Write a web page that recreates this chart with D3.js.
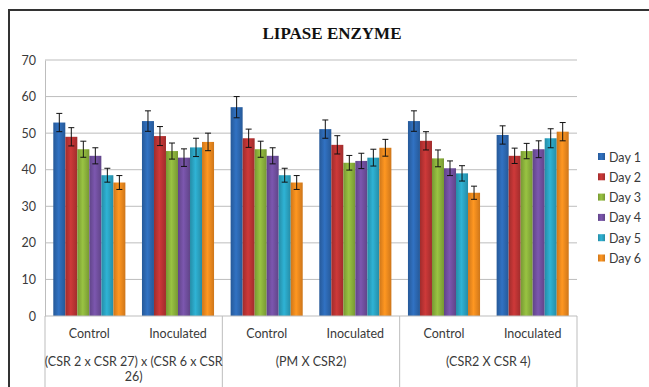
<!DOCTYPE html>
<html>
<head>
<meta charset="utf-8">
<script src="https://cdn.jsdelivr.net/npm/d3@7"></script>
<style>
  body { margin: 0; background: #fff; }
  text { font-family: Lato, "Liberation Sans", sans-serif; fill: #3a3a3a; }
</style>
</head>
<body>
<div id="chart"></div>
<script>
const W = 649, H = 387;

// data
const groups = ["(CSR 2 x CSR 27) x (CSR 6 x CSR 26)", "(PM X CSR2)", "(CSR2 X CSR 4)"];
const treatments = ["Control", "Inoculated"];
const days = ["Day 1", "Day 2", "Day 3", "Day 4", "Day 5", "Day 6"];
const yTicks = [0, 10, 20, 30, 40, 50, 60, 70];
// one entry per day, values in order: g1 control, g1 inoc, g2 control, g2 inoc, g3 control, g3 inoc
const day1 = [52.9, 53.3, 57.1, 51.1, 53.3, 49.5];
const day2 = [49.0, 49.2, 48.6, 46.8, 47.9, 43.8];
const day3 = [45.6, 45.1, 45.6, 41.9, 43.1, 45.1];
const day4 = [43.8, 43.3, 43.8, 42.4, 40.4, 45.6];
const day5 = [38.5, 46.1, 38.5, 43.3, 39.0, 48.6];
const day6 = [36.5, 47.6, 36.5, 46.0, 33.7, 50.4];
const err1 = [2.5, 2.8, 2.9, 2.5, 2.8, 2.5];
const err2 = [2.5, 2.6, 2.5, 2.5, 2.5, 2.1];
const err3 = [2.2, 2.2, 2.2, 2.0, 2.3, 2.1];
const err4 = [2.2, 2.4, 2.2, 2.1, 2.0, 2.3];
const err5 = [1.9, 2.5, 1.9, 2.3, 2.1, 2.6];
const err6 = [1.9, 2.4, 1.9, 2.3, 1.8, 2.5];
const colors = ["#2d68b2", "#bc3434", "#8cb23c", "#7150a0", "#2ba4c3", "#f28a1e"];

const seriesVals = [day1, day2, day3, day4, day5, day6];
const seriesErr = [err1, err2, err3, err4, err5, err6];

// subcategory keys like "0-Control"
const subcats = [];
groups.forEach((g, gi) => treatments.forEach(t => subcats.push(gi + "-" + t)));

const rows = [];
days.forEach((d, di) => {
  subcats.forEach((s, si) => {
    rows.push({day: d, di: di, sub: s, v: seriesVals[di][si], e: seriesErr[di][si]});
  });
});

const plot = {left: 45, right: 577, top: 60, bottom: 316};

const svg = d3.select("#chart").append("svg")
  .attr("width", W).attr("height", H);

// gradients, darker at edges like the office style bars
const defs = svg.append("defs");
colors.forEach((c, i) => {
  const g = defs.append("linearGradient").attr("id", "grad" + i)
    .attr("x1", "0%").attr("x2", "100%").attr("y1", "0%").attr("y2", "0%");
  const dark = d3.color(c).darker(0.45);
  const light = d3.color(c).brighter(0.25);
  g.append("stop").attr("offset", "0%").attr("stop-color", dark);
  g.append("stop").attr("offset", "45%").attr("stop-color", light);
  g.append("stop").attr("offset", "100%").attr("stop-color", dark);
});

// chart frame
svg.append("rect")
  .attr("x", 9).attr("y", 10).attr("width", 700).attr("height", 500)
  .attr("fill", "#fff").attr("stroke", "#333").attr("stroke-width", 2);

// title
svg.append("text")
  .attr("x", 332).attr("y", 39)
  .attr("text-anchor", "middle")
  .style("font-family", "'Liberation Serif', serif")
  .style("font-weight", "bold")
  .style("font-size", "17px")
  .style("fill", "#111")
  .text("LIPASE ENZYME");

const y = d3.scaleLinear().domain([0, 70]).range([plot.bottom, plot.top]);
const x0 = d3.scaleBand().domain(subcats).range([plot.left, plot.right]);
const x1 = d3.scaleBand().domain(days).range([0, x0.bandwidth()]).paddingOuter(0.69);

// gridlines
svg.append("g").selectAll("line")
  .data(yTicks.slice(1))
  .join("line")
    .attr("x1", plot.left).attr("x2", plot.right)
    .attr("y1", d => y(d)).attr("y2", d => y(d))
    .attr("stroke", "#bdbdbd").attr("stroke-width", 1);

// y axis
const yAxis = svg.append("g")
  .attr("transform", `translate(${plot.left},0)`)
  .call(d3.axisLeft(y).tickValues(yTicks).tickSize(0).tickPadding(9));
yAxis.select(".domain").attr("stroke", "#bdbdbd");
yAxis.selectAll("text").style("font-size", "12.5px").style("fill", "#3a3a3a").style("font-family", "Lato, sans-serif");

// bars
const bars = svg.append("g");
bars.selectAll("rect")
  .data(rows)
  .join("rect")
    .attr("x", d => x0(d.sub) + x1(d.day))
    .attr("y", d => y(d.v))
    .attr("width", x1.bandwidth())
    .attr("height", d => y(0) - y(d.v))
    .attr("fill", d => `url(#grad${d.di})`);

// error bars
const eb = svg.append("g").attr("stroke", "#111").attr("stroke-width", 1);
rows.forEach(d => {
  const cx = x0(d.sub) + x1(d.day) + x1.bandwidth() / 2;
  eb.append("line").attr("x1", cx).attr("x2", cx).attr("y1", y(d.v + d.e)).attr("y2", y(d.v - d.e));
  eb.append("line").attr("x1", cx - 3).attr("x2", cx + 3).attr("y1", y(d.v + d.e)).attr("y2", y(d.v + d.e));
  eb.append("line").attr("x1", cx - 3).attr("x2", cx + 3).attr("y1", y(d.v - d.e)).attr("y2", y(d.v - d.e));
});

// category axis
svg.append("line")
  .attr("x1", plot.left).attr("x2", plot.right)
  .attr("y1", plot.bottom).attr("y2", plot.bottom)
  .attr("stroke", "#bdbdbd");

const groupScale = d3.scaleBand().domain(groups).range([plot.left, plot.right]);
const dividers = [plot.left].concat(groups.map(g => groupScale(g) + groupScale.bandwidth()));
svg.append("g").selectAll("line")
  .data(dividers)
  .join("line")
    .attr("x1", d => d).attr("x2", d => d)
    .attr("y1", plot.bottom).attr("y2", H)
    .attr("stroke", "#bdbdbd");

svg.append("g").selectAll("text")
  .data(subcats)
  .join("text")
    .attr("x", d => x0(d) + x0.bandwidth() / 2)
    .attr("y", 338)
    .attr("text-anchor", "middle")
    .style("font-size", "12.5px")
    .text(d => d.split("-")[1]);

// group labels, wrapped to the group width
groups.forEach(g => {
  const t = svg.append("text")
    .attr("x", groupScale(g) + groupScale.bandwidth() / 2)
    .attr("y", 366)
    .attr("text-anchor", "middle")
    .style("font-size", "12.5px");
  const words = g.split(" ");
  let line = [];
  let tspan = t.append("tspan").attr("x", t.attr("x")).attr("dy", 0);
  words.forEach(w => {
    line.push(w);
    tspan.text(line.join(" "));
    if (tspan.node().getComputedTextLength() > groupScale.bandwidth() + 6 && line.length > 1) {
      line.pop();
      tspan.text(line.join(" "));
      line = [w];
      tspan = t.append("tspan").attr("x", t.attr("x")).attr("dy", 15).text(w);
    }
  });
});

// legend
const legend = svg.append("g").attr("transform", "translate(598,157)");
days.forEach((d, i) => {
  const row = legend.append("g").attr("transform", `translate(0,${i * 20.3})`);
  row.append("rect").attr("x", 0).attr("y", -4).attr("width", 7).attr("height", 7)
    .attr("fill", `url(#grad${i})`);
  row.append("text").attr("x", 11).attr("y", 4.5)
    .style("font-size", "12.5px").text(d);
});
</script>
</body>
</html>
